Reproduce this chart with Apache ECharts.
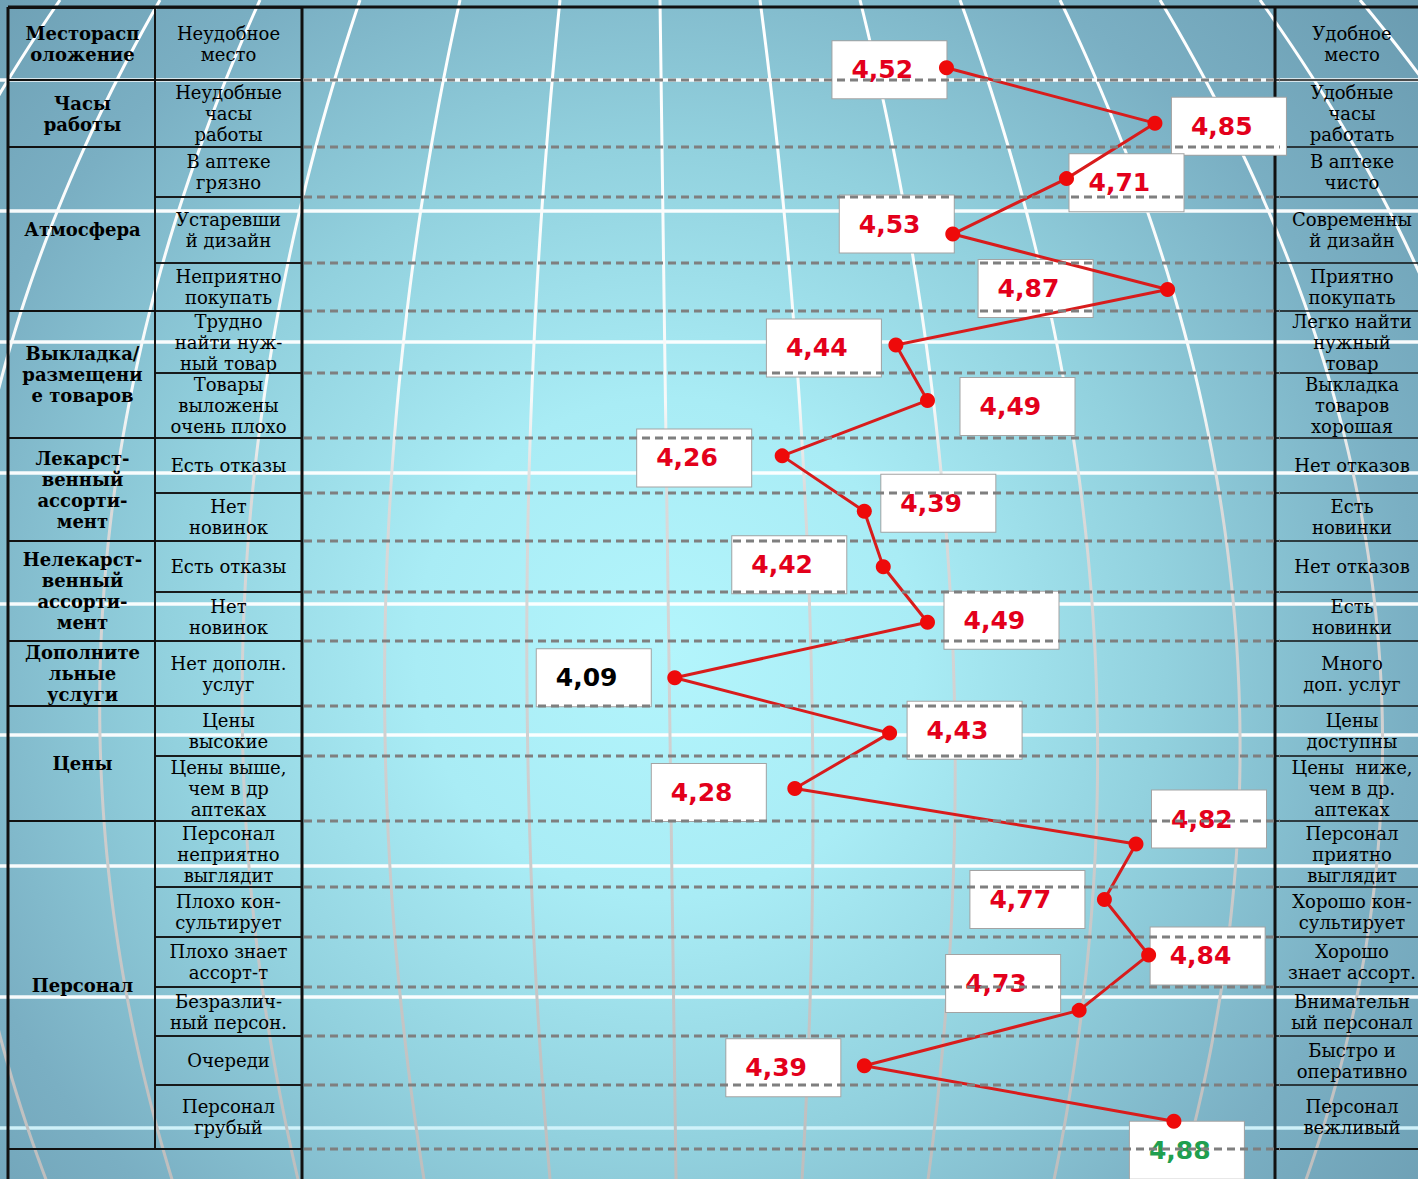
<!DOCTYPE html>
<html>
<head>
<meta charset="utf-8">
<script src="https://cdn.jsdelivr.net/npm/echarts@6/dist/echarts.min.js"></script>
<style>
html,body{margin:0;padding:0;overflow:hidden;background:#6d9db3;}
#chart{width:1418px;height:1179px;}
</style>
</head>
<body>
<div id="chart"></div>
<script>
// ---------------- DATA ----------------
const groupNames = [
  'Месторасп\nоложение',
  'Часы\nработы',
  'Атмосфера',
  'Выкладка/\nразмещени\nе товаров',
  'Лекарст-\nвенный\nассорти-\nмент',
  'Нелекарст-\nвенный\nассорти-\nмент',
  'Дополните\nльные\nуслуги',
  'Цены',
  'Персонал'
];
const groupRowCounts = [1, 1, 3, 2, 2, 2, 1, 2, 6];

const negLabels = [
  'Неудобное\nместо',
  'Неудобные\nчасы\nработы',
  'В аптеке\nгрязно',
  'Устаревши\nй дизайн',
  'Неприятно\nпокупать',
  'Трудно\nнайти нуж-\nный товар',
  'Товары\nвыложены\nочень плохо',
  'Есть отказы',
  'Нет\nновинок',
  'Есть отказы',
  'Нет\nновинок',
  'Нет дополн.\nуслуг',
  'Цены\nвысокие',
  'Цены выше,\nчем в др\nаптеках',
  'Персонал\nнеприятно\nвыглядит',
  'Плохо кон-\nсультирует',
  'Плохо знает\nассорт-т',
  'Безразлич-\nный персон.',
  'Очереди',
  'Персонал\nгрубый'
];

const posLabels = [
  'Удобное\nместо',
  'Удобные\nчасы\nработать',
  'В аптеке\nчисто',
  'Современны\nй дизайн',
  'Приятно\nпокупать',
  'Легко найти\nнужный\nтовар',
  'Выкладка\nтоваров\nхорошая',
  'Нет отказов',
  'Есть\nновинки',
  'Нет отказов',
  'Есть\nновинки',
  'Много\nдоп. услуг',
  'Цены\nдоступны',
  'Цены  ниже,\nчем в др.\nаптеках',
  'Персонал\nприятно\nвыглядит',
  'Хорошо кон-\nсультирует',
  'Хорошо\nзнает ассорт.',
  'Внимательн\nый персонал',
  'Быстро и\nоперативно',
  'Персонал\nвежливый'
];

const scores = [4.52, 4.85, 4.71, 4.53, 4.87, 4.44, 4.49, 4.26, 4.39, 4.42,
                4.49, 4.09, 4.43, 4.28, 4.82, 4.77, 4.84, 4.73, 4.39, 4.88];

// ---------------- STYLE / LAYOUT ----------------
const RED = '#e3001b', BLACK = '#000000', GREEN = '#1f9f4f';
const scoreLabelColors = [RED, RED, RED, RED, RED, RED, RED, RED, RED, RED,
                          RED, BLACK, RED, RED, RED, RED, RED, RED, RED, GREEN];
// label box placement relative to its point: [dx of box left edge, dy of box centre]
const labelOffsets = [[-114,2],[17,3],[3,4],[-113,-10],[-189,-1],[-129,3],[33,6],[-145,2],[17,-8],[-151,-2],
                      [17,-2],[-138,0],[18,-3],[-143,4],[16,-25],[-134,0],[2,1],[-133,-27],[-138,2],[-44,29]];
// relative table row heights
const rowHeights = [72,67,50,66,48,62,65,55,48,51,49,65,50,65,66,50,50,49,49,64];

const W = 1418, H = 1179;
const COL = { left: 8, split: 155, right: 302, rightTable: 1275, rightText: 1352 };
const TABLE_TOP = 8, TABLE_BOTTOM_GAP = 30;
const PLOT_TOP = 40, PLOT_BOTTOM_GAP = 30;

const rowStart = [0];
rowHeights.forEach(h => rowStart.push(rowStart[rowStart.length - 1] + h));
const rowTotal = rowStart[rowStart.length - 1];
const groupStart = [0];
groupRowCounts.forEach(c => groupStart.push(groupStart[groupStart.length - 1] + c));

const LINE = '#111111';
const cellFont = { fontFamily: '"DejaVu Serif", "Liberation Serif", serif', fontSize: 18, lineHeight: 21, fill: '#000' };

// ---------------- BACKGROUND DECORATION ----------------
const bgElements = [];
bgElements.push({
  type: 'rect', z: -30, silent: true,
  shape: { x: 0, y: 0, width: W, height: H },
  style: { fill: { type: 'radial', x: 666, y: 648, r: 1000, global: true,
    colorStops: [
      { offset: 0, color: '#b3f5fc' },
      { offset: 0.25, color: '#a9ecf5' },
      { offset: 0.5, color: '#92d1de' },
      { offset: 0.75, color: '#7aafc3' },
      { offset: 1, color: '#6a9bb0' }
    ] } }
});
for (let k = 0; k < 9; k++) {
  const y = 80 + 131 * k;
  bgElements.push({
    type: 'line', z: -20, silent: true,
    shape: { x1: 0, y1: y, x2: W, y2: y },
    style: { stroke: k === 8 ? '#d3f3fb' : '#ffffff', lineWidth: 3.5, opacity: 0.95 }
  });
}
const meridianStroke = { type: 'linear', x: 0, y: 0, x2: 0, y2: H, global: true,
  colorStops: [
    { offset: 0, color: '#ffffff' },
    { offset: 0.34, color: '#f6f9f9' },
    { offset: 0.42, color: '#dadada' },
    { offset: 1, color: '#bebebe' }
  ] };
for (let i = -7; i <= 8; i++) {
  const pts = [];
  for (let y = 0; y <= H + 15; y += 15) {
    const x0 = 660 + 0.0136 * y;
    const w = 100 + 0.117 * y - 8.05e-5 * y * y;
    pts.push([x0 + i * w, y]);
  }
  bgElements.push({
    type: 'polyline', z: -20, silent: true,
    shape: { points: pts },
    style: { stroke: meridianStroke, lineWidth: 3, fill: null }
  });
}

// ---------------- CHART ----------------
const chart = echarts.init(document.getElementById('chart'), null, { renderer: 'svg', width: W, height: H });

function rowY(api, r) { return api.coord([0, rowStart[r]])[1]; }

const option = {
  animation: false,
  backgroundColor: '#6d9db3',
  graphic: { elements: bgElements },
  grid: [
    { left: 0, right: 0, top: TABLE_TOP, bottom: TABLE_BOTTOM_GAP },
    { left: COL.right, right: W - COL.rightTable, top: PLOT_TOP, bottom: PLOT_BOTTOM_GAP }
  ],
  xAxis: [
    { gridIndex: 0, type: 'value', min: 0, max: 1, show: false },
    { gridIndex: 1, type: 'value', min: 3.5, max: 5.04, show: false }
  ],
  yAxis: [
    { gridIndex: 0, type: 'value', min: 0, max: rowTotal, inverse: true, show: false },
    { gridIndex: 1, type: 'category', data: negLabels.map((_, i) => String(i)), inverse: true,
      boundaryGap: true, show: false }
  ],
  series: [
    // table frame
    {
      type: 'custom', xAxisIndex: 0, yAxisIndex: 0, z: 2, silent: true, clip: false,
      data: [[0, 0]],
      renderItem: (params, api) => {
        const top = rowY(api, 0) - 1;
        const bot = rowY(api, rowHeights.length);
        const s = (w) => ({ stroke: LINE, lineWidth: w });
        return { type: 'group', children: [
          { type: 'line', shape: { x1: COL.left, y1: top, x2: W, y2: top }, style: s(3) },
          { type: 'line', shape: { x1: COL.left, y1: top, x2: COL.left, y2: H }, style: s(3) },
          { type: 'line', shape: { x1: COL.right, y1: top, x2: COL.right, y2: H }, style: s(3) },
          { type: 'line', shape: { x1: COL.rightTable, y1: top, x2: COL.rightTable, y2: H }, style: s(3) },
          { type: 'line', shape: { x1: COL.left, y1: bot, x2: COL.right, y2: bot }, style: s(2) },
          { type: 'line', shape: { x1: COL.rightTable, y1: bot, x2: W, y2: bot }, style: s(2) }
        ] };
      }
    },
    // group cells
    {
      type: 'custom', xAxisIndex: 0, yAxisIndex: 0, z: 2, silent: true, clip: false,
      data: groupNames.map((_, g) => [0, g]),
      renderItem: (params, api) => {
        const g = api.value(1);
        const y0 = rowY(api, groupStart[g]);
        const y1 = rowY(api, groupStart[g + 1]);
        return { type: 'group', children: [
          { type: 'rect', shape: { x: COL.left, y: y0, width: COL.split - COL.left, height: y1 - y0 },
            style: { fill: 'rgba(0,0,0,0)', stroke: LINE, lineWidth: 1.8 } },
          { type: 'text', style: Object.assign({}, cellFont, {
              text: groupNames[g], x: (COL.left + COL.split) / 2 + 1, y: (y0 + y1) / 2,
              align: 'center', verticalAlign: 'middle', fontWeight: 'bold' }) }
        ] };
      }
    },
    // row cells (negative and positive poles)
    {
      type: 'custom', xAxisIndex: 0, yAxisIndex: 0, z: 2, silent: true, clip: false,
      data: negLabels.map((_, i) => [0, i]),
      renderItem: (params, api) => {
        const i = api.value(1);
        const y0 = rowY(api, i);
        const y1 = rowY(api, i + 1);
        const mid = (y0 + y1) / 2;
        return { type: 'group', children: [
          { type: 'rect', shape: { x: COL.split, y: y0, width: COL.right - COL.split, height: y1 - y0 },
            style: { fill: 'rgba(0,0,0,0)', stroke: LINE, lineWidth: 1.6 } },
          { type: 'line', shape: { x1: COL.rightTable, y1: y1, x2: W, y2: y1 },
            style: { stroke: LINE, lineWidth: 1.6 } },
          { type: 'text', style: Object.assign({}, cellFont, {
              text: negLabels[i], x: (COL.split + COL.right) / 2, y: mid,
              align: 'center', verticalAlign: 'middle' }) },
          { type: 'text', style: Object.assign({}, cellFont, {
              text: posLabels[i], x: COL.rightText, y: mid,
              align: 'center', verticalAlign: 'middle' }) }
        ] };
      }
    },
    // value label boxes
    {
      type: 'scatter', xAxisIndex: 1, yAxisIndex: 1, z: 3, silent: true,
      symbol: 'circle', symbolSize: 1,
      itemStyle: { color: 'rgba(0,0,0,0)', opacity: 1 },
      data: scores.map((v, i) => ({
        value: [v, i],
        label: { offset: labelOffsets[i], color: scoreLabelColors[i] }
      })),
      label: {
        show: true, position: 'inside', align: 'left', verticalAlign: 'middle', opacity: 1,
        formatter: p => p.value[0].toFixed(2).replace('.', ','),
        fontFamily: '"DejaVu Sans", Verdana, sans-serif', fontWeight: 'bold', fontSize: 25,
        backgroundColor: '#ffffff', borderColor: '#a3a3a3', borderWidth: 1,
        width: 95, lineHeight: 57, padding: [0, 0, 0, 19]
      }
    },
    // profile line
    {
      type: 'line', xAxisIndex: 1, yAxisIndex: 1, z: 4, silent: true,
      data: scores.map((v, i) => [v, i]),
      symbol: 'circle', symbolSize: 15,
      lineStyle: { color: '#d81c1c', width: 3 },
      itemStyle: { color: '#ee0a0a', opacity: 1 },
      label: { show: false }
    },
    // dashed row separators across the plot
    {
      type: 'custom', xAxisIndex: 0, yAxisIndex: 0, z: 5, silent: true, clip: false,
      data: negLabels.map((_, i) => [0, i]),
      renderItem: (params, api) => {
        const i = api.value(1);
        const y1 = rowY(api, i + 1);
        return { type: 'line', shape: { x1: COL.right + 2, y1: y1, x2: COL.rightTable + 5, y2: y1 },
          style: { stroke: '#7f7f7f', lineWidth: 3, lineDash: [8, 5] } };
      }
    }
  ]
};
chart.setOption(option);
</script>
</body>
</html>
